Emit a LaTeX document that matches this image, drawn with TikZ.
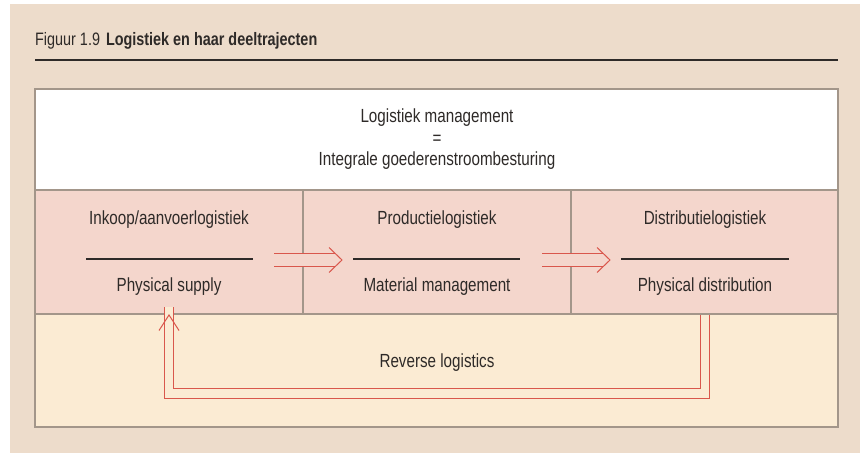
\documentclass[tikz,border=0pt]{standalone}
\usepackage{fontspec}
\setmainfont{Liberation Sans}[FakeStretch=0.8]
\usetikzlibrary{positioning,arrows.meta}

\definecolor{bgbeige}{HTML}{EDDCCB}
\definecolor{rowpink}{HTML}{F4D6CC}
\definecolor{rowcream}{HTML}{FBEBD3}
\definecolor{flowred}{HTML}{D9574C}
\definecolor{framegrey}{HTML}{A3968A}
\definecolor{inkgrey}{HTML}{2E2A28}

\tikzset{
	label/.style={text=inkgrey, font=\fontsize{19}{22}\selectfont, inner sep=0pt},
	frame/.style={draw=framegrey, line width=1.2pt},
	splitrule/.style={draw=inkgrey, line width=1.4pt},
	flowpipe/.style={draw=flowred, line width=1pt, double=rowpink, double distance=12.5pt},
	chevron/.style={draw=flowred, line width=1pt, line join=miter},
}

\begin{document}
\begin{tikzpicture}[x=1pt,y=-1pt]
			\useasboundingbox (0,0) rectangle (864,454);
			% Background and title
			\fill[bgbeige] (10,4) rectangle (860,453);
			\node[label, font=\fontsize{18}{21}\selectfont, anchor=base west] (title) at (35,46) {Figuur 1.9\hspace{6pt}\textbf{Logistiek en haar deeltrajecten}};
			\draw[splitrule, line width=1.6pt] (35,60) -- (838,60);

			% Rows of the frame
			\fill[white] (35,89) rectangle (838,190);
			\fill[rowpink] (35,190) rectangle (838,314);
			\fill[rowcream] (35,314) rectangle (838,427);
			\draw[frame] (35,190) -- (838,190);
			\draw[frame] (35,314) -- (838,314);
			\draw[frame] (303,190) -- (303,314);
			\draw[frame] (571,190) -- (571,314);
			\draw[frame] (35,89) rectangle (838,427);

			% Top row
			\node[label] (lm) at (437,118) {Logistiek management};
			\node[label] (eq) at (437,140) {=};
			\node[label] (igs) at (437,161) {Integrale goederenstroombesturing};

			% Three stages
			\node[label] (inkoop) at (169,220) {Inkoop/aanvoerlogistiek};
			\node[label] (supply) at (169,287) {Physical supply};
			\node[label] (productie) at (437,220) {Productielogistiek};
			\node[label] (material) at (437,287) {Material management};
			\node[label] (distributie) at (705,220) {Distributielogistiek};
			\node[label] (pdistr) at (705,287) {Physical distribution};

			\draw[splitrule] (86,259) -- (253,259);
			\draw[splitrule] (353,259) -- (520,259);
			\draw[splitrule] (621,259) -- (789,259);

			% Flow between stages
			\coordinate (out1) at (274,260);
			\coordinate (in2) at (342,260);
			\coordinate (out2) at (542,260);
			\coordinate (in3) at (610,260);
			\draw[flowpipe] (out1) -- ([xshift=-7pt]in2);
			\draw[chevron] (in2) ++(-13,-12.5) -- (in2) -- ++(-13,12.5);
			\draw[flowpipe] (out2) -- ([xshift=-7pt]in3);
			\draw[chevron] (in3) ++(-13,-12.5) -- (in3) -- ++(-13,12.5);

			% Return flow
			\node[label] (reverse) at (437,363) {Reverse logistics};
			\coordinate (retour) at (705,315);
			\coordinate (aanvoer) at (169,315);
			\draw[flowpipe, double=rowcream, double distance=8.5pt] (retour) -- ++(0,78.5) -| ([yshift=8pt]aanvoer);
			\draw[chevron] (aanvoer) ++(-10,15.5) -- (aanvoer) -- ++(10,15.5);
		\end{tikzpicture}
\end{document}
